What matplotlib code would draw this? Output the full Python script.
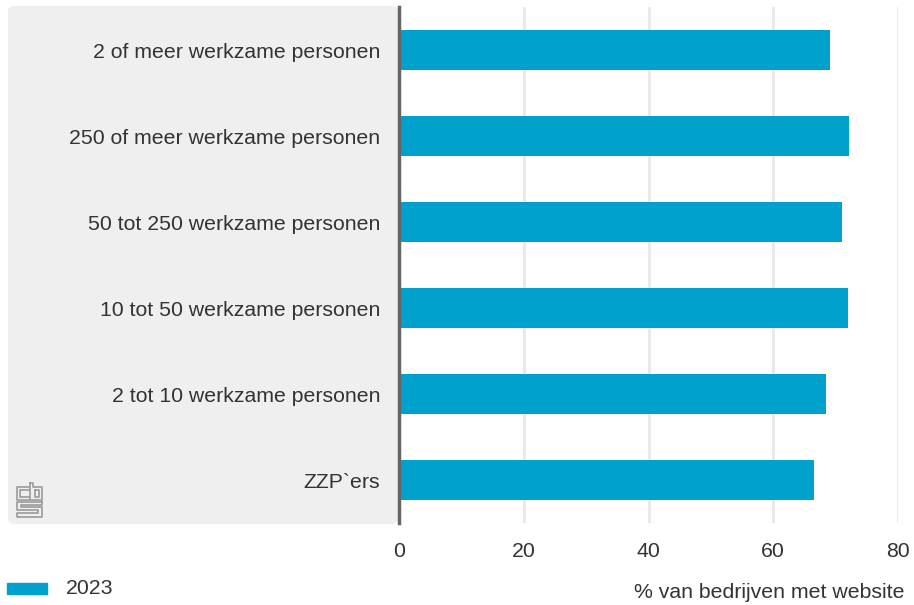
import matplotlib.pyplot as plt
from matplotlib.patches import FancyBboxPatch, Rectangle
from matplotlib.lines import Line2D

plt.rcParams['font.family'] = ['Liberation Sans', 'DejaVu Sans']

categories = ["2 of meer werkzame personen", "250 of meer werkzame personen",
              "50 tot 250 werkzame personen", "10 tot 50 werkzame personen",
              "2 tot 10 werkzame personen", "ZZP`ers"]
values_2023 = [69.1, 72.2, 71.1, 72.0, 68.5, 66.5]
xticks = [0, 20, 40, 60, 80]

blue = "#00a1cd"
txt = "#333333"
fs = 15.3
W, H = 914, 605

fig = plt.figure(figsize=(W / 100, H / 100), dpi=100)

# grey panel behind the category labels
panel = FancyBboxPatch((8 / W, 1 - 524 / H), 390 / W, 518 / H,
                       boxstyle="round,pad=0,rounding_size=0.008",
                       transform=fig.transFigure, facecolor="#efefef",
                       edgecolor="none", zorder=-5)
fig.patches.append(panel)

ax = fig.add_axes([399 / W, 1 - 523 / H, 499 / W, 516 / H])
ax.patch.set_alpha(0)

y = list(range(len(categories)))
ax.barh(y, values_2023, height=0.465, color=blue, zorder=3, label="2023")
ax.set_ylim(len(categories) - 0.5, -0.5)
ax.set_xlim(0, 80)
ax.set_yticks(y)
ax.set_yticklabels(categories, fontsize=fs, color=txt)
ax.set_xticks(xticks)
ax.set_xticklabels([str(t) for t in xticks], fontsize=fs, color=txt)
ax.tick_params(axis='y', length=0, pad=13.5)
ax.tick_params(axis='x', length=0, pad=14)
for t in xticks[1:]:
    ax.axvline(t, color="#e8e8e8", lw=2, zorder=1)
for s in ["top", "right", "bottom"]:
    ax.spines[s].set_visible(False)
ax.spines["left"].set_color("#666666")
ax.spines["left"].set_linewidth(2.5)
ax.spines["left"].set_zorder(4)

fig.text(904 / W, 1 - 593 / H, "% van bedrijven met website", ha="right",
         va="center", fontsize=fs, color=txt)

# legend
fig.patches.append(Rectangle((7 / W, 1 - 594 / H), 40 / W, 11 / H,
                             transform=fig.transFigure, color=blue))
fig.text(66 / W, 1 - 589 / H, "2023", ha="left", va="center",
         fontsize=fs, color=txt)

# rough cbs logo
def px(pts):
    return [p[0] / W for p in pts], [1 - p[1] / H for p in pts]

logo = [
    [(29, 487), (17, 487), (17, 500), (29, 500)],
    [(29, 490), (20, 490), (20, 497), (29, 497)],
    [(30, 483), (33, 483), (33, 487), (42, 487), (42, 500), (30, 500), (30, 483)],
    [(35, 490), (39, 490), (39, 497), (35, 497), (35, 490)],
    [(42, 502), (17, 502), (17, 510), (38, 510), (38, 513), (17, 513), (17, 517), (42, 517), (42, 507), (21, 507), (21, 505), (42, 505), (42, 502)],
]
for seg in logo:
    xs, ys = px(seg)
    fig.lines.append(Line2D(xs, ys, transform=fig.transFigure, color="#9a9a9a", lw=1.2))

fig.savefig("out.png", dpi=100)
